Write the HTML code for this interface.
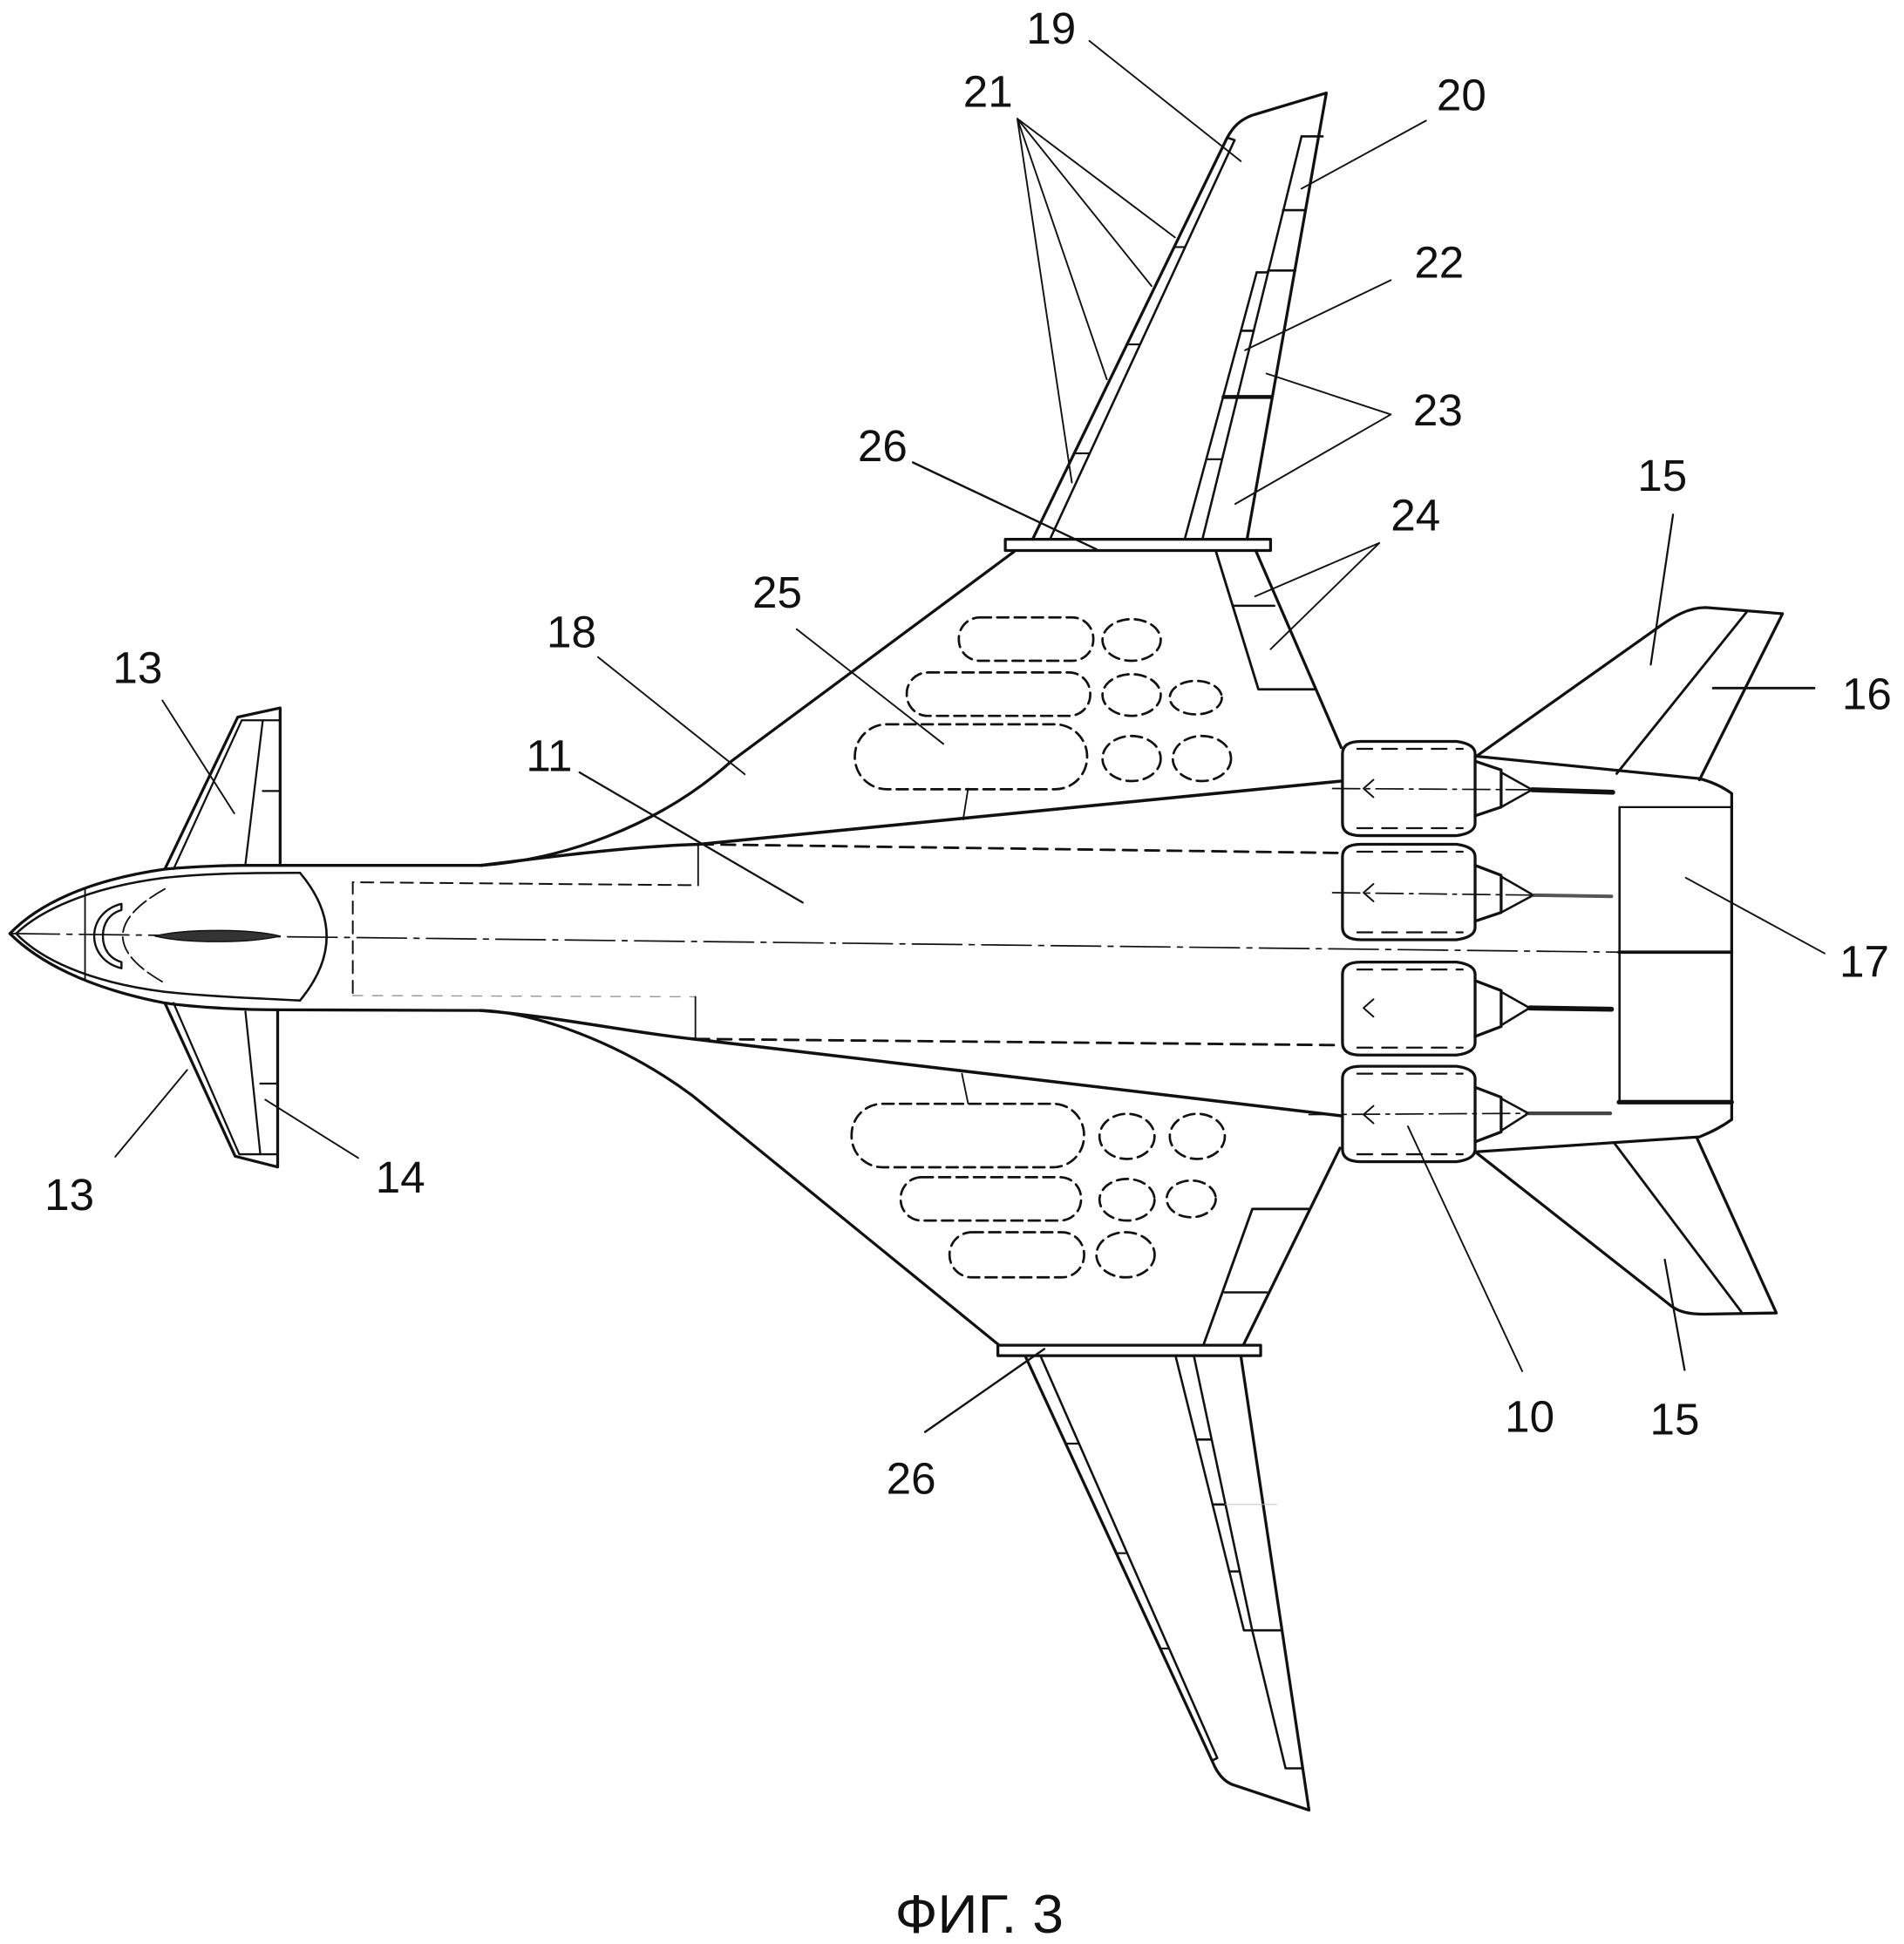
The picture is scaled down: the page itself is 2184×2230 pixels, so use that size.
<!DOCTYPE html>
<html>
<head>
<meta charset="utf-8">
<style>
html,body{margin:0;padding:0;background:#fff;}
svg{display:block;}
text{font-family:"Liberation Sans","DejaVu Sans",sans-serif;fill:#111;}
</style>
</head>
<body>
<svg width="2184" height="2230" viewBox="0 0 1536 1568" preserveAspectRatio="none" xmlns="http://www.w3.org/2000/svg">
<rect x="0" y="0" width="1536" height="1568" fill="#fff"/>
<g fill="none" stroke="#111" stroke-linejoin="round" stroke-linecap="round">

<!-- centerline -->
<path d="M8,753 L1306,768" stroke-width="1.2" stroke-dasharray="40 6 4 6"/>

<!-- NOSE / FUSELAGE -->
<path d="M8,753 C30,730 70,710 133,701 C160,698.5 190,698 198,698 L388,698" stroke-width="2.3"/>
<path d="M8,753 C30,775 70,797 133,809 C160,813 200,814.5 226,814.5 L388,815" stroke-width="2.3"/>
<path d="M13,753 C32,735 70,716 133,708 C160,705 190,704 242,704" stroke-width="1.8"/>
<path d="M13,753 C32,773 70,792 133,800 C160,803 200,805 242,807" stroke-width="1.8"/>
<path d="M242,704 Q285,755 242,807" stroke-width="1.8"/>
<path d="M133,717 Q65,755 133,793" stroke-width="1.3" stroke-dasharray="14 4"/>
<path d="M68.6,717 L68.6,790" stroke-width="1.3"/>
<path d="M98,729 C82,733 76,745 76,755 C76,765 82,777 98,781 L98,776 C88,773 83,765 83,755 C83,745 88,737 98,734 Z" stroke-width="1.7"/>
<path d="M125,755 C150,749 200,749 226,755 C200,761 150,761 125,755 Z" fill="#333" stroke-width="1"/>

<!-- inner fuselage dashed box -->
<path d="M284.6,801 L284.6,711.6 L563.2,714" stroke-width="1.4" stroke-dasharray="10 6"/>
<path d="M563.2,714 L563.2,681" stroke-width="1.3"/>
<path d="M564,681 L1082,688" stroke-width="2" stroke-dasharray="11 7"/>
<path d="M284.6,803 L561,804" stroke-width="1" stroke-dasharray="8 8" stroke="#999"/>
<path d="M561,804 L561,838" stroke-width="1.3"/>
<path d="M561,838 L1082,843" stroke-width="2" stroke-dasharray="11 7"/>

<!-- LEX and inner fairing lines -->
<path d="M388,698 C450,694 530,668 590,614 L818,445" stroke-width="2.3"/>
<path d="M388,698 C430,693 500,683 564,681 L1082,630" stroke-width="2.5"/>
<path d="M388,815 C430,816 500,840 559,884 L806,1085" stroke-width="2.3"/>
<path d="M388,815 C450,820 510,833 559,838 L1082,900" stroke-width="2.5"/>

<!-- CANARDS -->
<path d="M133,701 L191.8,578.4 L226,571 L226,698" stroke-width="2.3"/>
<path d="M140,701 L195,581 L226,581" stroke-width="1.6"/>
<path d="M198,697 L212,581" stroke-width="1.6"/>
<path d="M212,638 L226,638" stroke-width="1.6"/>
<path d="M133,809 L189.7,932.6 L224,941.3 L224,814.5" stroke-width="2.3"/>
<path d="M140,809 L193,931 L224,931" stroke-width="1.6"/>
<path d="M198,816 L210,931" stroke-width="1.6"/>
<path d="M210,874 L224,874" stroke-width="1.6"/>

<!-- UPPER WING -->
<rect x="811" y="435" width="214" height="9" stroke-width="2.3" fill="#fff"/>
<path d="M833,435 L990,111 C995,102 1000,97 1010,93 L1070,75 L1006,435" stroke-width="2.3"/>
<path d="M847,435 L996,113 L990,111" stroke-width="1.8"/>
<path d="M947.2,199.3 L956.1,199.3 M909.2,277.8 L919.7,277.8 M866.6,365.7 L879.1,365.7" stroke-width="1.5"/>
<path d="M1050,110 L970,435" stroke-width="1.8"/>
<path d="M1013.8,219.7 L955.7,435" stroke-width="1.8"/>
<path d="M1050,110 L1067,110" stroke-width="1.8"/>
<path d="M1035,169.5 L1053,169.5" stroke-width="1.8"/>
<path d="M1023,218.2 L1045,218.2" stroke-width="1.8"/>
<path d="M1013.8,219.7 L1023,219.7" stroke-width="1.8"/>
<path d="M1001.5,266.8 L1011.5,266.8" stroke-width="1.8"/>
<path d="M987,320.2 L1026,320.2" stroke-width="3.2"/>
<path d="M974,370.4 L985.6,370.4" stroke-width="1.5"/>
<!-- upper root trailing edge -->
<path d="M1013,444 L1082,603" stroke-width="2.3"/>
<path d="M980.7,444 L1015.2,556 L1060,556" stroke-width="2"/>
<path d="M994.5,488.6 L1028,488.6" stroke-width="1.8"/>

<!-- LOWER WING -->
<rect x="805" y="1085" width="212" height="8.5" stroke-width="2.3" fill="#fff"/>
<path d="M827,1093.5 L980,1425 Q986,1437 996,1440 L1056,1460 L1001,1093.5" stroke-width="2.3"/>
<path d="M839.3,1093.5 L982,1418 L978,1420" stroke-width="1.8"/>
<path d="M860.2,1164.4 L870.7,1164.4 M901,1252.8 L909.5,1252.8 M936.6,1329.7 L943.2,1329.7" stroke-width="1.5"/>
<path d="M948.3,1093.5 L1003.5,1315 L1034,1315" stroke-width="1.8"/>
<path d="M963.1,1093.5 L1010.2,1315 L1037.1,1426.3 L1051,1426.3" stroke-width="1.8"/>
<path d="M965.1,1161.1 L977.4,1161.1 M978.2,1213.5 L988.6,1213.5 M991.6,1267.5 L1000.1,1267.5" stroke-width="1.8"/>
<path d="M988.6,1213.5 L1030,1213.5" stroke-width="0.6" stroke="#bbb"/>
<!-- lower root trailing edge -->
<path d="M1003,1085 L1081,926" stroke-width="2.3"/>
<path d="M970.8,1085 L1010.3,975.1 L1056,975.1" stroke-width="2"/>
<path d="M988,1042.4 L1022,1042.4" stroke-width="1.8"/>

<!-- CABIN OVALS (dashed) -->
<g stroke-width="1.9" stroke-dasharray="9 5">
<rect x="773.5" y="498" width="108.5" height="35" rx="17" ry="17"/>
<ellipse cx="912.9" cy="516.2" rx="23.5" ry="16.8"/>
<rect x="731.5" y="542.4" width="148" height="35" rx="17" ry="17"/>
<ellipse cx="912.9" cy="560.6" rx="23.5" ry="16.8"/>
<ellipse cx="964.7" cy="562.7" rx="21" ry="13.5"/>
<rect x="689.6" y="584.2" width="187.4" height="52.4" rx="26" ry="26"/>
<ellipse cx="912.9" cy="611.8" rx="23.5" ry="18.2"/>
<ellipse cx="969.6" cy="611.8" rx="23.5" ry="18.2"/>

<rect x="687" y="890.3" width="187.5" height="51.2" rx="25" ry="25"/>
<ellipse cx="909.2" cy="916.6" rx="22.2" ry="18.2"/>
<ellipse cx="965.9" cy="916.6" rx="22.2" ry="18.2"/>
<rect x="726.6" y="949.5" width="145.5" height="35" rx="17" ry="17"/>
<ellipse cx="909.2" cy="967.7" rx="22.2" ry="16.8"/>
<ellipse cx="961" cy="967" rx="19.8" ry="14.8"/>
<rect x="766" y="993.9" width="108.6" height="36.4" rx="18" ry="18"/>
<ellipse cx="908" cy="1012.1" rx="23.5" ry="18.2"/>
</g>
<path d="M781,636 L777,661" stroke-width="1.3"/>
<path d="M776,866 L781,890" stroke-width="1.3"/>

<!-- ENGINES -->
<g>
<path d="M1083,608 Q1083,598 1098,598 L1175,598 Q1190,600 1190,608 L1190,664 Q1190,672 1175,674 L1098,674 Q1083,674 1083,664 Z" stroke-width="2.3" fill="#fff"/>
<path d="M1095,604 L1180,604 M1095,668 L1180,668" stroke-width="1.6" stroke-dasharray="12 8"/>
<path d="M1190,614 L1211,621 L1211,651 L1190,658" stroke-width="2.3"/>
<path d="M1211,623 L1236,637 L1211,651" stroke-width="1.8"/>
<path d="M1236,637 L1301,639" stroke-width="4"/>
<path d="M1075,636 L1236,637" stroke-width="1.2" stroke-dasharray="22 5 3 5"/>
<path d="M1108,629 L1100,636 L1108,643" stroke-width="1.4"/>
</g>
<g>
<path d="M1083,691 Q1083,681 1098,681 L1175,681 Q1190,683 1190,691 L1190,748 Q1190,756 1175,758 L1098,758 Q1083,758 1083,748 Z" stroke-width="2.3" fill="#fff"/>
<path d="M1095,687 L1180,687 M1095,752 L1180,752" stroke-width="1.6" stroke-dasharray="12 8"/>
<path d="M1190,698 L1211,706 L1211,736 L1190,743" stroke-width="2.3"/>
<path d="M1211,707 L1237,722 L1211,736" stroke-width="1.8"/>
<path d="M1237,722 L1300,723" stroke-width="2.8" stroke="#555"/>
<path d="M1075,720 L1237,722" stroke-width="1.2" stroke-dasharray="22 5 3 5"/>
<path d="M1108,713 L1100,720 L1108,727" stroke-width="1.4"/>
</g>
<g>
<path d="M1083,786 Q1083,776 1098,776 L1175,776 Q1190,778 1190,786 L1190,841 Q1190,849 1175,851 L1098,851 Q1083,851 1083,841 Z" stroke-width="2.3" fill="#fff"/>
<path d="M1095,782 L1180,782 M1095,845 L1180,845" stroke-width="1.6" stroke-dasharray="12 8"/>
<path d="M1190,791 L1211,799 L1211,828 L1190,836" stroke-width="2.3"/>
<path d="M1211,800 L1234,813 L1211,827" stroke-width="1.8"/>
<path d="M1234,813 L1300,814" stroke-width="4"/>
<path d="M1108,806 L1100,813 L1108,820" stroke-width="1.4"/>
</g>
<g>
<path d="M1083,870 Q1083,860 1098,860 L1175,860 Q1190,862 1190,870 L1190,927 Q1190,935 1175,937 L1098,937 Q1083,937 1083,927 Z" stroke-width="2.3" fill="#fff"/>
<path d="M1095,866 L1180,866 M1095,931 L1180,931" stroke-width="1.6" stroke-dasharray="12 8"/>
<path d="M1190,877 L1211,885 L1211,913 L1190,921" stroke-width="2.3"/>
<path d="M1211,886 L1233,898 L1211,912" stroke-width="1.8"/>
<path d="M1233,898 L1299,898" stroke-width="3" stroke="#444"/>
<path d="M1056,899 L1233,898" stroke-width="1.2" stroke-dasharray="22 5 3 5"/>
<path d="M1108,892 L1100,899 L1108,906" stroke-width="1.4"/>
</g>

<!-- TAIL BODY -->
<path d="M1191,610 L1371,628 Q1386,632 1397,640 L1397,903 Q1386,911 1371,917 L1191,929" stroke-width="2.3"/>
<path d="M1306.5,651 L1397,651" stroke-width="1.6"/>
<path d="M1306.5,651 L1306.5,889" stroke-width="1.8"/>
<path d="M1306,889 L1397,889" stroke-width="3.6"/>
<path d="M1306,768 L1397,768" stroke-width="2.6"/>

<!-- FINS -->
<path d="M1191,610 L1335,508 C1350,497 1362,490 1376,490 L1438,495 L1371,629" stroke-width="2.3"/>
<path d="M1409.6,493 L1304.2,624" stroke-width="2"/>
<path d="M1190,929 L1349,1054 C1355,1058 1362,1060 1375,1060 L1433,1059 L1369,918" stroke-width="2.3"/>
<path d="M1302.3,922 L1404.7,1058" stroke-width="2"/>

<!-- LEADER LINES -->
<g stroke-width="1.35">
<path d="M131,565 L189,656"/>
<path d="M151,863 L93,933"/>
<path d="M214,887 L289,934"/>
<path d="M467.5,623 L647.6,728" stroke-width="1.6"/>
<path d="M482.4,530 L600.8,624.5"/>
<path d="M642.7,507.5 L761,600"/>
<path d="M736.5,373 L884.5,443" stroke-width="1.7"/>
<path d="M842.5,1088 L746.3,1155" stroke-width="1.7"/>
<path d="M878.8,33 L1001,130"/>
<path d="M820.7,95.7 L947.9,191.5 M820.7,95.7 L929,230.7 M820.7,95.7 L892.9,306 M820.7,95.7 L864.7,389.2"/>
<path d="M1150.4,97.3 L1049.9,152.2"/>
<path d="M1122,226 L1004.4,282.5"/>
<path d="M1122,334.3 L1021.7,301.3 M1122,334.3 L996.5,406.5"/>
<path d="M1112.7,438 L1012.5,481 M1112.7,438 L1025,523.6"/>
<path d="M1349.7,415 L1331.7,536" stroke-width="1.6"/>
<path d="M1382,555 L1463.5,555" stroke-width="2"/>
<path d="M1360,708 L1472,769"/>
<path d="M1135.8,908.5 L1228,1106"/>
<path d="M1343,1016 L1359,1105" stroke-width="1.6"/>
</g>
</g>

<!-- LABELS -->
<g font-size="36" text-anchor="middle">
<text x="848" y="35">19</text>
<text x="797" y="86">21</text>
<text x="1179" y="89">20</text>
<text x="1161" y="224">22</text>
<text x="1160" y="343">23</text>
<text x="712" y="372">26</text>
<text x="1341" y="396">15</text>
<text x="1142" y="428">24</text>
<text x="627" y="490">25</text>
<text x="461" y="522">18</text>
<text x="111" y="551">13</text>
<text x="1506" y="572">16</text>
<text x="443" y="622">11</text>
<text x="1504" y="788">17</text>
<text x="56" y="976">13</text>
<text x="323" y="962">14</text>
<text x="1234" y="1155">10</text>
<text x="1351" y="1157">15</text>
<text x="735" y="1205">26</text>
</g>
<text x="790" y="1559" font-size="44" text-anchor="middle" textLength="136" lengthAdjust="spacingAndGlyphs">ФИГ. 3</text>
</svg>
</body>
</html>
